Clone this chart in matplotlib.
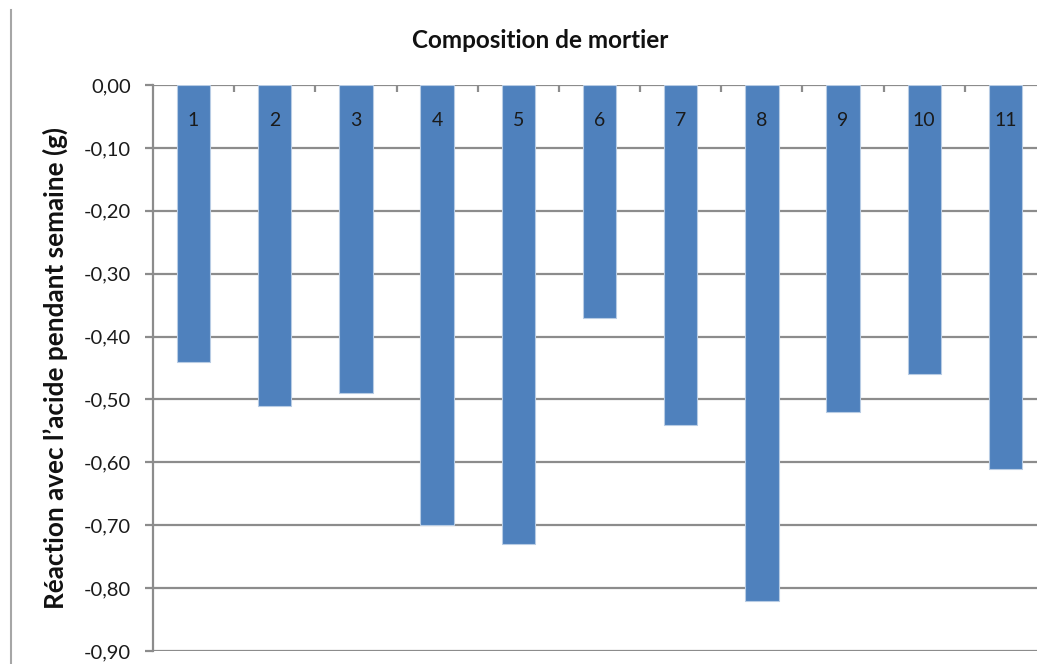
import matplotlib
matplotlib.use("Agg")
import matplotlib.pyplot as plt
from matplotlib.lines import Line2D
from matplotlib.ticker import FixedLocator

plt.rcParams['font.family'] = ['Lato', 'DejaVu Sans']

# Data
compositions = ["1", "2", "3", "4", "5", "6", "7", "8", "9", "10", "11"]
reaction = [-0.44, -0.51, -0.49, -0.70, -0.73, -0.37, -0.54, -0.82, -0.52, -0.46, -0.61]
y_ticks = [0.0, -0.1, -0.2, -0.3, -0.4, -0.5, -0.6, -0.7, -0.8, -0.9]
title = "Composition de mortier"
y_label = "Réaction avec l’acide pendant semaine (g)"

W, H = 1037, 664
fig = plt.figure(figsize=(W / 100, H / 100), dpi=100)
fig.patch.set_facecolor("white")

ax = fig.add_axes([153 / W, 13 / H, (1046 - 153) / W, (651 - 85) / H])

grid_col = "#8c8c8c"
x = list(range(1, len(compositions) + 1))

ax.set_ylim(-0.9, 0.0)
ax.set_xlim(0.5, len(compositions) + 0.5)

for yv in y_ticks:
    ax.axhline(yv, color=grid_col, lw=1.6, zorder=1)

ax.bar(x, reaction, width=0.41, color="#4F81BD", edgecolor="#b8cce4",
       linewidth=0.8, zorder=3)

for xi, lab in zip(x, compositions):
    ax.text(xi, -0.057, lab, ha="center", va="center", fontsize=14,
            color="#1a1a1a", zorder=4)

for s in ["top", "right", "bottom"]:
    ax.spines[s].set_visible(False)
ax.spines["left"].set_color(grid_col)
ax.spines["left"].set_linewidth(1.6)

ax.yaxis.set_major_locator(FixedLocator(y_ticks))
ax.set_yticklabels([f"{v:.2f}".replace(".", ",") for v in y_ticks],
                   fontsize=14.5, color="#1a1a1a")
ax.tick_params(axis="y", direction="out", length=6, width=1.6,
               color=grid_col, pad=10)

# category separators as small ticks along the zero line
ax.xaxis.set_ticks_position("top")
ax.xaxis.set_major_locator(FixedLocator([i + 0.5 for i in x]))
ax.tick_params(axis="x", direction="in", length=5, width=1.6,
               color=grid_col, labeltop=False, labelbottom=False)

fig.text(55 / W, 1 - 368 / H, y_label, rotation=90, ha="center", va="center",
         fontsize=18.8, fontweight="bold", color="#111111")
fig.text(540 / W, 1 - 40 / H, title, ha="center", va="center",
         fontsize=17.5, fontweight="bold", color="#111111")

# outer chart frame edge on the left
fig.add_artist(Line2D([11 / W, 11 / W], [0, 1 - 10 / H],
                      transform=fig.transFigure, color="#a6a6a6", lw=1.5))

fig.savefig("out.png", dpi=100, facecolor="white")
